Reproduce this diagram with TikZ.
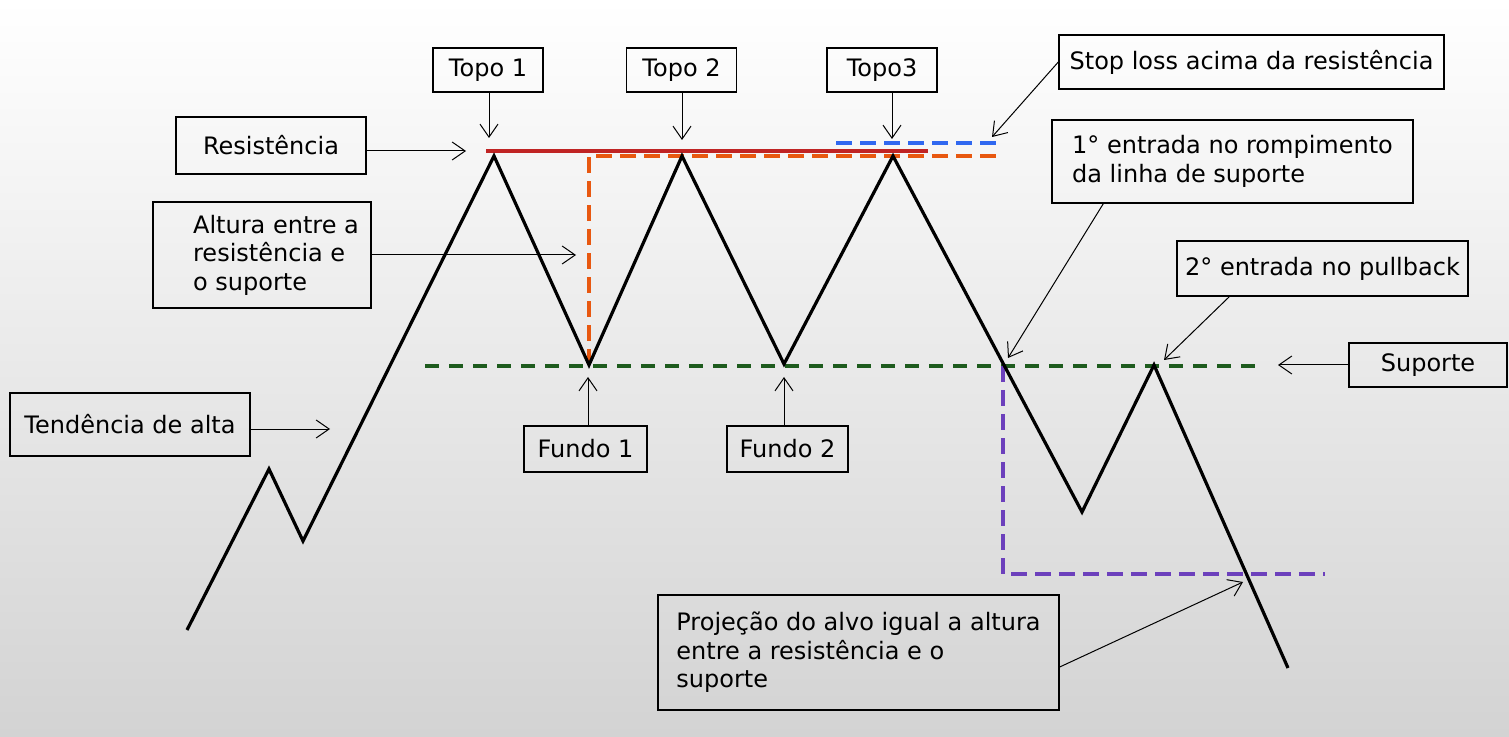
\documentclass[tikz,border=0pt]{standalone}
\usepackage{fontspec}
\setmainfont{DejaVu Sans}
\usetikzlibrary{arrows.meta}
\usetikzlibrary{calc}
\definecolor{bgbot}{RGB}{211,211,211}
\definecolor{resred}{RGB}{192,36,36}
\definecolor{hgtorange}{RGB}{232,88,16}
\definecolor{stopblue}{RGB}{48,104,240}
\definecolor{supgreen}{RGB}{30,92,30}
\definecolor{tgtpurple}{RGB}{108,64,188}
\tikzset{lbl/.style = {draw, line width=0.7pt, inner sep=0, align=left,
                       font=\fontsize{12pt}{14.2pt}\selectfont}}
\tikzset{ptr/.style = {-{Straight Barb[length=6.5pt, width=9pt]}, line width=0.5pt}}
\tikzset{price/.style = {line width=1.6pt, line join=miter}}
\tikzset{lvl/.style = {line width=2pt, dash pattern=on 8pt off 4pt}}

\begin{document}
\begin{tikzpicture}[x=0.5pt, y=-0.5pt]
      \shade [top color=white, bottom color=bgbot] (0, 0) rectangle (1509, 737);
      \useasboundingbox (0, 0) rectangle (1509, 737);

      % levels
      \draw [line width=2pt, resred] (486, 151) -- (928, 151);
      \draw [lvl, hgtorange] (589, 365) -- (589, 156) -- (1003, 156);
      \draw [lvl, stopblue] (836, 143) -- (996, 143);
      \draw [lvl, supgreen, dash pattern=on 7pt off 5pt] (425, 366) -- (1258, 366);
      \draw [lvl, tgtpurple] (1003, 366) -- (1003, 574) -- (1325, 574);

      % price
      \draw [price] (187, 630) -- (269, 469) -- (303, 541) -- (494, 156) -- (589, 365)
                    -- (682, 156) -- (784, 364) -- (893, 156) -- (1082, 512)
                    -- (1154, 365) -- (1288, 668);

      \node [lbl, minimum width=55pt, minimum height=22pt] (topoA) at (488, 70) {Topo 1};
      \node [lbl, minimum width=55pt, minimum height=22pt] (topoB) at (681.5, 70) {Topo 2};
      \node [lbl, minimum width=55pt, minimum height=22pt] (topoC) at (882, 70) {Topo3};
      \node [lbl, minimum width=192.5pt, minimum height=27pt] (stop) at (1251.5, 62) {Stop loss acima da resistência};
      \node [lbl, minimum width=95pt, minimum height=28.5pt] (resist) at (271, 145.5) {Resistência};
      \node [lbl, minimum width=109pt, minimum height=53pt] (altura) at (262, 255) {\hspace*{14pt}Altura entre a\\\hspace*{14pt}resistência e\\\hspace*{14pt}o suporte};
      \node [lbl, minimum width=180.5pt, minimum height=41.5pt] (entradaA) at (1232.5, 161.5) {1° entrada no rompimento\\da linha de suporte};
      \node [lbl, minimum width=145.5pt, minimum height=27.5pt] (entradaB) at (1322.5, 268.5) {2° entrada no pullback};
      \node [lbl, minimum width=79pt, minimum height=22pt] (suporte) at (1428, 365) {Suporte};
      \node [lbl, minimum width=120pt, minimum height=31.5pt] (tendencia) at (130, 424.5) {Tendência de alta};
      \node [lbl, minimum width=61.5pt, minimum height=23pt] (fundoA) at (585.5, 449) {Fundo 1};
      \node [lbl, minimum width=60.5pt, minimum height=23pt] (fundoB) at (787.5, 449) {Fundo 2};
      \node [lbl, minimum width=200.5pt, minimum height=57.5pt] (projecao) at (858.5, 652.5) {Projeção do alvo igual a altura\\entre a resistência e o\\suporte};

      \coordinate (tipA) at (489, 138);
      \coordinate (tipB) at (682, 140);
      \coordinate (tipC) at (892, 139);
      \coordinate (tipR) at (466, 151);
      \coordinate (tipH) at (576, 255);
      \coordinate (tipT) at (330, 429);
      \coordinate (tipF1) at (588, 377);
      \coordinate (tipF2) at (784, 377);
      \coordinate (tipS) at (992, 137);
      \coordinate (tipE1) at (1008, 358);
      \coordinate (tipE2) at (1164, 360);
      \coordinate (tipSup) at (1278, 365);
      \coordinate (tipP) at (1243, 582);

      \draw [ptr] (topoA.south -| tipA) -- (tipA);
      \draw [ptr] (topoB.south -| tipB) -- (tipB);
      \draw [ptr] (topoC.south -| tipC) -- (tipC);
      \draw [ptr] (resist.east |- tipR) -- (tipR);
      \draw [ptr] (altura.east |- tipH) -- (tipH);
      \draw [ptr] (tendencia.east |- tipT) -- (tipT);
      \draw [ptr] (fundoA.north -| tipF1) -- (tipF1);
      \draw [ptr] (fundoB.north -| tipF2) -- (tipF2);
      \draw [ptr] (stop.west) -- (tipS);
      \draw [ptr] ([xshift=26pt]entradaA.south west) -- (tipE1);
      \draw [ptr] ([xshift=26.5pt]entradaB.south west) -- (tipE2);
      \draw [ptr] (suporte.west) -- (tipSup);
      \draw [ptr] ([yshift=-7.25pt]projecao.east) -- (tipP);
\end{tikzpicture}
\end{document}
